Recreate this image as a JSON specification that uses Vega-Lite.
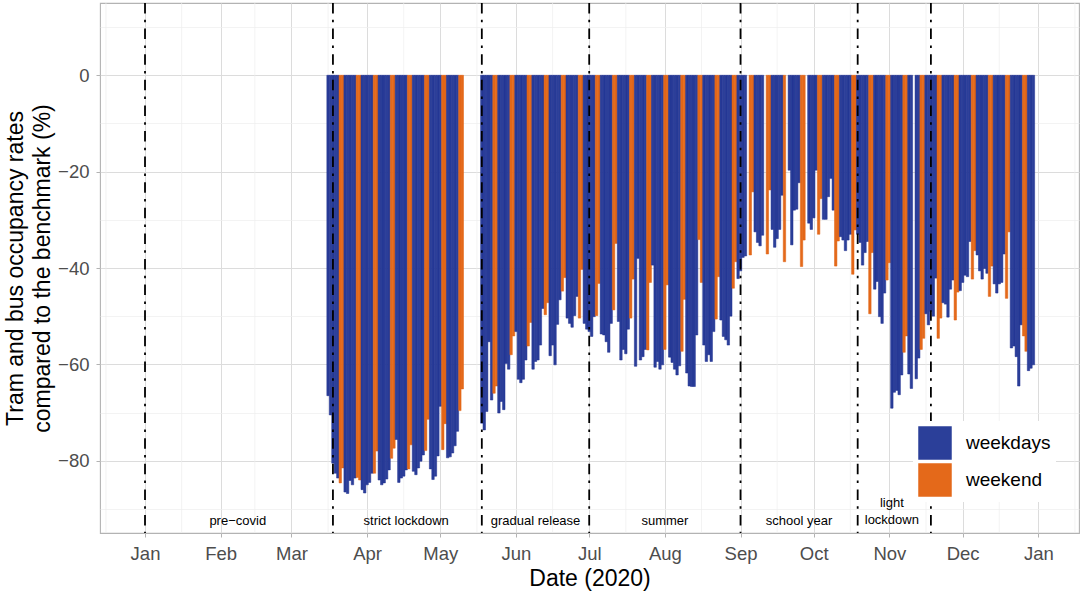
{
  "$schema": "https://vega.github.io/schema/vega-lite/v6.json",
  "width": 979,
  "height": 530,
  "autosize": {"type": "none"},
  "padding": {"left": 100, "top": 3, "right": 5, "bottom": 62},
  "datasets": {
    "occupancy": [
      {"date": "2020-03-16", "value": -66.5, "type": "weekdays"},
      {"date": "2020-03-17", "value": -70.5, "type": "weekdays"},
      {"date": "2020-03-18", "value": -80.5, "type": "weekdays"},
      {"date": "2020-03-19", "value": -82.6, "type": "weekdays"},
      {"date": "2020-03-20", "value": -83.6, "type": "weekdays"},
      {"date": "2020-03-21", "value": -84.6, "type": "weekend"},
      {"date": "2020-03-22", "value": -81.5, "type": "weekend"},
      {"date": "2020-03-23", "value": -86.5, "type": "weekdays"},
      {"date": "2020-03-24", "value": -86.8, "type": "weekdays"},
      {"date": "2020-03-25", "value": -84.1, "type": "weekdays"},
      {"date": "2020-03-26", "value": -85.0, "type": "weekdays"},
      {"date": "2020-03-27", "value": -83.6, "type": "weekdays"},
      {"date": "2020-03-28", "value": -83.5, "type": "weekend"},
      {"date": "2020-03-29", "value": -84.0, "type": "weekend"},
      {"date": "2020-03-30", "value": -86.0, "type": "weekdays"},
      {"date": "2020-03-31", "value": -86.7, "type": "weekdays"},
      {"date": "2020-04-01", "value": -85.0, "type": "weekdays"},
      {"date": "2020-04-02", "value": -84.5, "type": "weekdays"},
      {"date": "2020-04-03", "value": -82.6, "type": "weekdays"},
      {"date": "2020-04-04", "value": -82.6, "type": "weekend"},
      {"date": "2020-04-05", "value": -78.0, "type": "weekend"},
      {"date": "2020-04-06", "value": -84.0, "type": "weekdays"},
      {"date": "2020-04-07", "value": -85.0, "type": "weekdays"},
      {"date": "2020-04-08", "value": -84.6, "type": "weekdays"},
      {"date": "2020-04-09", "value": -83.8, "type": "weekdays"},
      {"date": "2020-04-10", "value": -81.9, "type": "weekdays"},
      {"date": "2020-04-11", "value": -79.5, "type": "weekend"},
      {"date": "2020-04-12", "value": -77.4, "type": "weekend"},
      {"date": "2020-04-13", "value": -75.6, "type": "weekdays"},
      {"date": "2020-04-14", "value": -84.5, "type": "weekdays"},
      {"date": "2020-04-15", "value": -83.6, "type": "weekdays"},
      {"date": "2020-04-16", "value": -83.2, "type": "weekdays"},
      {"date": "2020-04-17", "value": -81.9, "type": "weekdays"},
      {"date": "2020-04-18", "value": -81.7, "type": "weekend"},
      {"date": "2020-04-19", "value": -76.7, "type": "weekend"},
      {"date": "2020-04-20", "value": -82.2, "type": "weekdays"},
      {"date": "2020-04-21", "value": -82.9, "type": "weekdays"},
      {"date": "2020-04-22", "value": -81.5, "type": "weekdays"},
      {"date": "2020-04-23", "value": -80.1, "type": "weekdays"},
      {"date": "2020-04-24", "value": -78.8, "type": "weekdays"},
      {"date": "2020-04-25", "value": -77.9, "type": "weekend"},
      {"date": "2020-04-26", "value": -71.4, "type": "weekend"},
      {"date": "2020-04-27", "value": -81.7, "type": "weekdays"},
      {"date": "2020-04-28", "value": -83.9, "type": "weekdays"},
      {"date": "2020-04-29", "value": -83.2, "type": "weekdays"},
      {"date": "2020-04-30", "value": -79.0, "type": "weekdays"},
      {"date": "2020-05-01", "value": -68.7, "type": "weekdays"},
      {"date": "2020-05-02", "value": -77.7, "type": "weekend"},
      {"date": "2020-05-03", "value": -72.3, "type": "weekend"},
      {"date": "2020-05-04", "value": -79.4, "type": "weekdays"},
      {"date": "2020-05-05", "value": -79.2, "type": "weekdays"},
      {"date": "2020-05-06", "value": -78.4, "type": "weekdays"},
      {"date": "2020-05-07", "value": -76.9, "type": "weekdays"},
      {"date": "2020-05-08", "value": -73.9, "type": "weekdays"},
      {"date": "2020-05-09", "value": -69.6, "type": "weekend"},
      {"date": "2020-05-10", "value": -65.1, "type": "weekend"},
      {"date": "2020-05-18", "value": -72.2, "type": "weekdays"},
      {"date": "2020-05-19", "value": -73.6, "type": "weekdays"},
      {"date": "2020-05-20", "value": -69.8, "type": "weekdays"},
      {"date": "2020-05-21", "value": -55.3, "type": "weekdays"},
      {"date": "2020-05-22", "value": -67.4, "type": "weekdays"},
      {"date": "2020-05-23", "value": -66.0, "type": "weekend"},
      {"date": "2020-05-24", "value": -64.5, "type": "weekend"},
      {"date": "2020-05-25", "value": -70.1, "type": "weekdays"},
      {"date": "2020-05-26", "value": -67.7, "type": "weekdays"},
      {"date": "2020-05-27", "value": -69.4, "type": "weekdays"},
      {"date": "2020-05-28", "value": -59.8, "type": "weekdays"},
      {"date": "2020-05-29", "value": -61.0, "type": "weekdays"},
      {"date": "2020-05-30", "value": -58.0, "type": "weekend"},
      {"date": "2020-05-31", "value": -54.1, "type": "weekend"},
      {"date": "2020-06-01", "value": -53.2, "type": "weekdays"},
      {"date": "2020-06-02", "value": -63.1, "type": "weekdays"},
      {"date": "2020-06-03", "value": -63.8, "type": "weekdays"},
      {"date": "2020-06-04", "value": -63.1, "type": "weekdays"},
      {"date": "2020-06-05", "value": -59.1, "type": "weekdays"},
      {"date": "2020-06-06", "value": -56.2, "type": "weekend"},
      {"date": "2020-06-07", "value": -51.3, "type": "weekend"},
      {"date": "2020-06-08", "value": -61.0, "type": "weekdays"},
      {"date": "2020-06-09", "value": -59.4, "type": "weekdays"},
      {"date": "2020-06-10", "value": -59.1, "type": "weekdays"},
      {"date": "2020-06-11", "value": -56.0, "type": "weekdays"},
      {"date": "2020-06-12", "value": -48.4, "type": "weekdays"},
      {"date": "2020-06-13", "value": -49.7, "type": "weekend"},
      {"date": "2020-06-14", "value": -47.2, "type": "weekend"},
      {"date": "2020-06-15", "value": -58.2, "type": "weekdays"},
      {"date": "2020-06-16", "value": -56.0, "type": "weekdays"},
      {"date": "2020-06-17", "value": -60.1, "type": "weekdays"},
      {"date": "2020-06-18", "value": -51.7, "type": "weekdays"},
      {"date": "2020-06-19", "value": -46.6, "type": "weekdays"},
      {"date": "2020-06-20", "value": -44.8, "type": "weekend"},
      {"date": "2020-06-21", "value": -42.0, "type": "weekend"},
      {"date": "2020-06-22", "value": -50.4, "type": "weekdays"},
      {"date": "2020-06-23", "value": -51.5, "type": "weekdays"},
      {"date": "2020-06-24", "value": -52.3, "type": "weekdays"},
      {"date": "2020-06-25", "value": -49.9, "type": "weekdays"},
      {"date": "2020-06-26", "value": -45.9, "type": "weekdays"},
      {"date": "2020-06-27", "value": -50.4, "type": "weekend"},
      {"date": "2020-06-28", "value": -40.3, "type": "weekend"},
      {"date": "2020-06-29", "value": -51.5, "type": "weekdays"},
      {"date": "2020-06-30", "value": -52.7, "type": "weekdays"},
      {"date": "2020-07-01", "value": -53.2, "type": "weekdays"},
      {"date": "2020-07-02", "value": -54.2, "type": "weekdays"},
      {"date": "2020-07-03", "value": -50.1, "type": "weekdays"},
      {"date": "2020-07-04", "value": -49.9, "type": "weekend"},
      {"date": "2020-07-05", "value": -43.2, "type": "weekend"},
      {"date": "2020-07-06", "value": -53.7, "type": "weekdays"},
      {"date": "2020-07-07", "value": -53.9, "type": "weekdays"},
      {"date": "2020-07-08", "value": -55.3, "type": "weekdays"},
      {"date": "2020-07-09", "value": -57.5, "type": "weekdays"},
      {"date": "2020-07-10", "value": -51.5, "type": "weekdays"},
      {"date": "2020-07-11", "value": -48.7, "type": "weekend"},
      {"date": "2020-07-12", "value": -34.9, "type": "weekend"},
      {"date": "2020-07-13", "value": -51.1, "type": "weekdays"},
      {"date": "2020-07-14", "value": -59.1, "type": "weekdays"},
      {"date": "2020-07-15", "value": -56.9, "type": "weekdays"},
      {"date": "2020-07-16", "value": -57.8, "type": "weekdays"},
      {"date": "2020-07-17", "value": -52.7, "type": "weekdays"},
      {"date": "2020-07-18", "value": -50.4, "type": "weekend"},
      {"date": "2020-07-19", "value": -42.3, "type": "weekend"},
      {"date": "2020-07-20", "value": -60.4, "type": "weekdays"},
      {"date": "2020-07-21", "value": -38.0, "type": "weekdays"},
      {"date": "2020-07-22", "value": -59.1, "type": "weekdays"},
      {"date": "2020-07-23", "value": -58.4, "type": "weekdays"},
      {"date": "2020-07-24", "value": -56.9, "type": "weekdays"},
      {"date": "2020-07-25", "value": -57.0, "type": "weekend"},
      {"date": "2020-07-26", "value": -43.0, "type": "weekend"},
      {"date": "2020-07-27", "value": -39.4, "type": "weekdays"},
      {"date": "2020-07-28", "value": -60.6, "type": "weekdays"},
      {"date": "2020-07-29", "value": -59.4, "type": "weekdays"},
      {"date": "2020-07-30", "value": -61.0, "type": "weekdays"},
      {"date": "2020-07-31", "value": -60.1, "type": "weekdays"},
      {"date": "2020-08-01", "value": -56.9, "type": "weekend"},
      {"date": "2020-08-02", "value": -43.5, "type": "weekend"},
      {"date": "2020-08-03", "value": -58.5, "type": "weekdays"},
      {"date": "2020-08-04", "value": -59.6, "type": "weekdays"},
      {"date": "2020-08-05", "value": -61.0, "type": "weekdays"},
      {"date": "2020-08-06", "value": -62.2, "type": "weekdays"},
      {"date": "2020-08-07", "value": -60.3, "type": "weekdays"},
      {"date": "2020-08-08", "value": -57.3, "type": "weekend"},
      {"date": "2020-08-09", "value": -46.5, "type": "weekend"},
      {"date": "2020-08-10", "value": -61.8, "type": "weekdays"},
      {"date": "2020-08-11", "value": -64.5, "type": "weekdays"},
      {"date": "2020-08-12", "value": -64.6, "type": "weekdays"},
      {"date": "2020-08-13", "value": -64.6, "type": "weekdays"},
      {"date": "2020-08-14", "value": -53.9, "type": "weekdays"},
      {"date": "2020-08-15", "value": -34.1, "type": "weekend"},
      {"date": "2020-08-16", "value": -43.0, "type": "weekend"},
      {"date": "2020-08-17", "value": -56.0, "type": "weekdays"},
      {"date": "2020-08-18", "value": -59.4, "type": "weekdays"},
      {"date": "2020-08-19", "value": -58.0, "type": "weekdays"},
      {"date": "2020-08-20", "value": -59.4, "type": "weekdays"},
      {"date": "2020-08-21", "value": -53.2, "type": "weekdays"},
      {"date": "2020-08-22", "value": -50.6, "type": "weekend"},
      {"date": "2020-08-23", "value": -41.8, "type": "weekend"},
      {"date": "2020-08-24", "value": -50.8, "type": "weekdays"},
      {"date": "2020-08-25", "value": -54.2, "type": "weekdays"},
      {"date": "2020-08-26", "value": -54.9, "type": "weekdays"},
      {"date": "2020-08-27", "value": -56.0, "type": "weekdays"},
      {"date": "2020-08-28", "value": -50.0, "type": "weekdays"},
      {"date": "2020-08-29", "value": -44.2, "type": "weekend"},
      {"date": "2020-08-30", "value": -38.7, "type": "weekend"},
      {"date": "2020-08-31", "value": -42.2, "type": "weekdays"},
      {"date": "2020-09-01", "value": -40.6, "type": "weekdays"},
      {"date": "2020-09-02", "value": -37.8, "type": "weekdays"},
      {"date": "2020-09-03", "value": -37.5, "type": "weekdays"},
      {"date": "2020-09-05", "value": -37.3, "type": "weekend"},
      {"date": "2020-09-06", "value": -24.2, "type": "weekend"},
      {"date": "2020-09-07", "value": -32.5, "type": "weekdays"},
      {"date": "2020-09-08", "value": -34.7, "type": "weekdays"},
      {"date": "2020-09-09", "value": -35.4, "type": "weekdays"},
      {"date": "2020-09-10", "value": -33.2, "type": "weekdays"},
      {"date": "2020-09-12", "value": -37.1, "type": "weekend"},
      {"date": "2020-09-13", "value": -23.8, "type": "weekend"},
      {"date": "2020-09-14", "value": -32.0, "type": "weekdays"},
      {"date": "2020-09-15", "value": -35.7, "type": "weekdays"},
      {"date": "2020-09-16", "value": -33.9, "type": "weekdays"},
      {"date": "2020-09-17", "value": -32.0, "type": "weekdays"},
      {"date": "2020-09-18", "value": -24.9, "type": "weekdays"},
      {"date": "2020-09-19", "value": -38.7, "type": "weekend"},
      {"date": "2020-09-21", "value": -19.7, "type": "weekdays"},
      {"date": "2020-09-22", "value": -35.2, "type": "weekdays"},
      {"date": "2020-09-23", "value": -28.0, "type": "weekdays"},
      {"date": "2020-09-24", "value": -27.8, "type": "weekdays"},
      {"date": "2020-09-25", "value": -22.3, "type": "weekdays"},
      {"date": "2020-09-26", "value": -39.7, "type": "weekend"},
      {"date": "2020-09-27", "value": -34.2, "type": "weekend"},
      {"date": "2020-09-29", "value": -30.7, "type": "weekdays"},
      {"date": "2020-09-30", "value": -32.0, "type": "weekdays"},
      {"date": "2020-10-01", "value": -29.6, "type": "weekdays"},
      {"date": "2020-10-02", "value": -19.7, "type": "weekdays"},
      {"date": "2020-10-03", "value": -33.0, "type": "weekend"},
      {"date": "2020-10-04", "value": -25.6, "type": "weekend"},
      {"date": "2020-10-05", "value": -29.9, "type": "weekdays"},
      {"date": "2020-10-06", "value": -29.9, "type": "weekdays"},
      {"date": "2020-10-07", "value": -25.2, "type": "weekdays"},
      {"date": "2020-10-08", "value": -21.4, "type": "weekdays"},
      {"date": "2020-10-09", "value": -28.0, "type": "weekdays"},
      {"date": "2020-10-10", "value": -39.6, "type": "weekend"},
      {"date": "2020-10-11", "value": -34.4, "type": "weekend"},
      {"date": "2020-10-12", "value": -33.5, "type": "weekdays"},
      {"date": "2020-10-13", "value": -34.2, "type": "weekdays"},
      {"date": "2020-10-14", "value": -36.4, "type": "weekdays"},
      {"date": "2020-10-15", "value": -34.2, "type": "weekdays"},
      {"date": "2020-10-16", "value": -33.0, "type": "weekdays"},
      {"date": "2020-10-17", "value": -41.3, "type": "weekend"},
      {"date": "2020-10-18", "value": -32.1, "type": "weekend"},
      {"date": "2020-10-19", "value": -33.0, "type": "weekdays"},
      {"date": "2020-10-20", "value": -34.7, "type": "weekdays"},
      {"date": "2020-10-21", "value": -39.4, "type": "weekdays"},
      {"date": "2020-10-22", "value": -36.8, "type": "weekdays"},
      {"date": "2020-10-23", "value": -34.5, "type": "weekdays"},
      {"date": "2020-10-24", "value": -49.5, "type": "weekend"},
      {"date": "2020-10-25", "value": -36.8, "type": "weekend"},
      {"date": "2020-10-26", "value": -44.4, "type": "weekdays"},
      {"date": "2020-10-27", "value": -42.8, "type": "weekdays"},
      {"date": "2020-10-28", "value": -50.1, "type": "weekdays"},
      {"date": "2020-10-29", "value": -51.5, "type": "weekdays"},
      {"date": "2020-10-30", "value": -45.2, "type": "weekdays"},
      {"date": "2020-10-31", "value": -42.5, "type": "weekend"},
      {"date": "2020-11-01", "value": -38.9, "type": "weekend"},
      {"date": "2020-11-02", "value": -69.1, "type": "weekdays"},
      {"date": "2020-11-03", "value": -65.8, "type": "weekdays"},
      {"date": "2020-11-04", "value": -65.4, "type": "weekdays"},
      {"date": "2020-11-05", "value": -66.3, "type": "weekdays"},
      {"date": "2020-11-06", "value": -62.2, "type": "weekdays"},
      {"date": "2020-11-07", "value": -57.5, "type": "weekend"},
      {"date": "2020-11-08", "value": -54.1, "type": "weekend"},
      {"date": "2020-11-09", "value": -62.0, "type": "weekdays"},
      {"date": "2020-11-10", "value": -65.0, "type": "weekdays"},
      {"date": "2020-11-12", "value": -63.0, "type": "weekdays"},
      {"date": "2020-11-13", "value": -58.7, "type": "weekdays"},
      {"date": "2020-11-14", "value": -56.9, "type": "weekend"},
      {"date": "2020-11-15", "value": -54.6, "type": "weekend"},
      {"date": "2020-11-16", "value": -49.5, "type": "weekdays"},
      {"date": "2020-11-17", "value": -51.8, "type": "weekdays"},
      {"date": "2020-11-18", "value": -49.0, "type": "weekdays"},
      {"date": "2020-11-19", "value": -50.0, "type": "weekdays"},
      {"date": "2020-11-20", "value": -42.1, "type": "weekdays"},
      {"date": "2020-11-21", "value": -54.6, "type": "weekend"},
      {"date": "2020-11-22", "value": -50.4, "type": "weekend"},
      {"date": "2020-11-23", "value": -47.2, "type": "weekdays"},
      {"date": "2020-11-24", "value": -47.5, "type": "weekdays"},
      {"date": "2020-11-25", "value": -50.2, "type": "weekdays"},
      {"date": "2020-11-26", "value": -44.4, "type": "weekdays"},
      {"date": "2020-11-27", "value": -42.5, "type": "weekdays"},
      {"date": "2020-11-28", "value": -50.8, "type": "weekend"},
      {"date": "2020-11-29", "value": -45.0, "type": "weekend"},
      {"date": "2020-11-30", "value": -44.7, "type": "weekdays"},
      {"date": "2020-12-01", "value": -43.0, "type": "weekdays"},
      {"date": "2020-12-02", "value": -41.5, "type": "weekdays"},
      {"date": "2020-12-03", "value": -41.8, "type": "weekdays"},
      {"date": "2020-12-04", "value": -34.5, "type": "weekdays"},
      {"date": "2020-12-05", "value": -42.3, "type": "weekend"},
      {"date": "2020-12-06", "value": -36.4, "type": "weekend"},
      {"date": "2020-12-07", "value": -37.3, "type": "weekdays"},
      {"date": "2020-12-08", "value": -40.6, "type": "weekdays"},
      {"date": "2020-12-09", "value": -42.3, "type": "weekdays"},
      {"date": "2020-12-10", "value": -40.1, "type": "weekdays"},
      {"date": "2020-12-11", "value": -41.1, "type": "weekdays"},
      {"date": "2020-12-12", "value": -45.9, "type": "weekend"},
      {"date": "2020-12-13", "value": -39.6, "type": "weekend"},
      {"date": "2020-12-14", "value": -43.3, "type": "weekdays"},
      {"date": "2020-12-15", "value": -45.2, "type": "weekdays"},
      {"date": "2020-12-16", "value": -43.3, "type": "weekdays"},
      {"date": "2020-12-17", "value": -43.0, "type": "weekdays"},
      {"date": "2020-12-18", "value": -37.1, "type": "weekdays"},
      {"date": "2020-12-19", "value": -46.3, "type": "weekend"},
      {"date": "2020-12-20", "value": -32.5, "type": "weekend"},
      {"date": "2020-12-21", "value": -56.6, "type": "weekdays"},
      {"date": "2020-12-22", "value": -56.2, "type": "weekdays"},
      {"date": "2020-12-23", "value": -58.4, "type": "weekdays"},
      {"date": "2020-12-24", "value": -64.5, "type": "weekdays"},
      {"date": "2020-12-25", "value": -51.8, "type": "weekdays"},
      {"date": "2020-12-26", "value": -54.1, "type": "weekend"},
      {"date": "2020-12-27", "value": -57.3, "type": "weekend"},
      {"date": "2020-12-28", "value": -61.3, "type": "weekdays"},
      {"date": "2020-12-29", "value": -60.8, "type": "weekdays"},
      {"date": "2020-12-30", "value": -60.1, "type": "weekdays"}
    ],
    "breaks": [
      {"date": "2020-01-01"},
      {"date": "2020-03-18"},
      {"date": "2020-05-18"},
      {"date": "2020-07-01"},
      {"date": "2020-09-01"},
      {"date": "2020-10-19"},
      {"date": "2020-11-18"}
    ],
    "minor": [
      {"date": "2019-12-16"},
      {"date": "2020-01-16"},
      {"date": "2020-02-15"},
      {"date": "2020-03-16"},
      {"date": "2020-04-16"},
      {"date": "2020-05-16"},
      {"date": "2020-06-16"},
      {"date": "2020-07-16"},
      {"date": "2020-08-16"},
      {"date": "2020-09-16"},
      {"date": "2020-10-16"},
      {"date": "2020-11-16"},
      {"date": "2020-12-16"},
      {"date": "2021-01-16"}
    ],
    "phases": [
      {"date": "2020-02-08", "label": "pre−covid"},
      {"date": "2020-04-17", "label": "strict lockdown"},
      {"date": "2020-06-09", "label": "gradual release"},
      {"date": "2020-08-01", "label": "summer"},
      {"date": "2020-09-25", "label": "school year"},
      {"date": "2020-11-02", "label": "light\nlockdown"}
    ]
  },
  "layer": [
    {
      "data": {"name": "minor"},
      "mark": {"type": "rule", "color": "#eeeeee", "strokeWidth": 0.7},
      "encoding": {
        "x": {"field": "date", "type": "temporal"}
      }
    },
    {
      "data": {"name": "occupancy"},
      "mark": {"type": "bar", "width": 2.44, "strokeWidth": 0.5},
      "encoding": {
        "x": {
          "field": "date",
          "type": "temporal",
          "scale": {
            "type": "utc",
            "domain": [
              {"year": 2019, "month": 12, "date": 13, "hours": 13, "minutes": 26, "utc": true},
              {"year": 2021, "month": 1, "date": 17, "hours": 16, "minutes": 19, "utc": true}
            ],
            "nice": false,
            "padding": 0
          },
          "axis": {
            "title": "Date (2020)",
            "tickCount": {"interval": "month", "step": 1},
            "format": "%b",
            "labelOverlap": false,
            "labelFlush": false,
            "labelPadding": 7,
            "titlePadding": 5,
            "gridColor": "#dcdcdc",
            "gridWidth": 1
          }
        },
        "y": {
          "field": "value",
          "type": "quantitative",
          "scale": {"domain": [-95, 15], "nice": false, "zero": false, "padding": 0},
          "axis": {
            "title": ["Tram and bus occupancy rates", "compared to the benchmark (%)"],
            "titleLineHeight": 27,
            "values": [-90, -80, -70, -60, -50, -40, -30, -20, -10, 0, 10],
            "format": "d",
            "labelExpr": "datum.value % 20 === 0 ? datum.label : ''",
            "labelPadding": 7,
            "titlePadding": 3,
            "tickOpacity": {"condition": {"test": "datum.value % 20 === 0", "value": 1}, "value": 0},
            "gridColor": {"condition": {"test": "datum.value % 20 === 0", "value": "#dcdcdc"}, "value": "#eeeeee"},
            "gridWidth": {"condition": {"test": "datum.value % 20 === 0", "value": 1}, "value": 0.7}
          }
        },
        "fill": {
          "field": "type",
          "type": "nominal",
          "scale": {"domain": ["weekdays", "weekend"], "range": ["#2b3f99", "#e4691a"]},
          "legend": {
            "title": null,
            "orient": "none",
            "legendX": 813,
            "legendY": 418,
            "padding": 5,
            "fillColor": "white",
            "symbolType": "square",
            "symbolSize": 1122,
            "symbolStrokeWidth": 0,
            "symbolOpacity": 1,
            "rowPadding": 3,
            "labelOffset": 14,
            "labelFontSize": 19,
            "labelColor": "black",
            "labelFont": "Liberation Sans"
          }
        },
        "stroke": {
          "condition": {"test": "datum.type === 'weekend'", "value": "#e06010"},
          "value": "#1a2b8e"
        }
      }
    },
    {
      "data": {"name": "breaks"},
      "mark": {"type": "rule", "color": "black", "strokeWidth": 1.8, "strokeDash": [10.5, 6.3, 2.5, 6.3]},
      "encoding": {
        "x": {"field": "date", "type": "temporal"}
      }
    },
    {
      "data": {"name": "phases"},
      "transform": [{"filter": "indexof(datum.label, '\\n') < 0"}],
      "mark": {"type": "text", "fontSize": 13, "font": "Liberation Sans", "color": "black", "align": "center", "baseline": "alphabetic"},
      "encoding": {
        "x": {"field": "date", "type": "temporal"},
        "y": {"datum": -93.3, "type": "quantitative"},
        "text": {"field": "label", "type": "nominal"}
      }
    },
    {
      "data": {"name": "phases"},
      "transform": [{"filter": "indexof(datum.label, '\\n') >= 0"}],
      "mark": {"type": "text", "fontSize": 13, "font": "Liberation Sans", "color": "black", "align": "center", "baseline": "alphabetic", "lineBreak": "\n", "lineHeight": 17.6},
      "encoding": {
        "x": {"field": "date", "type": "temporal"},
        "y": {"datum": -89.5, "type": "quantitative"},
        "text": {"field": "label", "type": "nominal"}
      }
    }
  ],
  "config": {
    "font": "Liberation Sans",
    "view": {"stroke": "#b3b3b3", "strokeWidth": 1.1},
    "axis": {
      "domain": false,
      "tickColor": "#b3b3b3",
      "tickSize": 4,
      "tickWidth": 1,
      "labelFont": "Liberation Sans",
      "labelFontSize": 18.5,
      "labelColor": "#4d4d4d",
      "titleFont": "Liberation Sans",
      "titleFontSize": 23,
      "titleFontWeight": "normal",
      "titleColor": "black"
    }
  }
}
